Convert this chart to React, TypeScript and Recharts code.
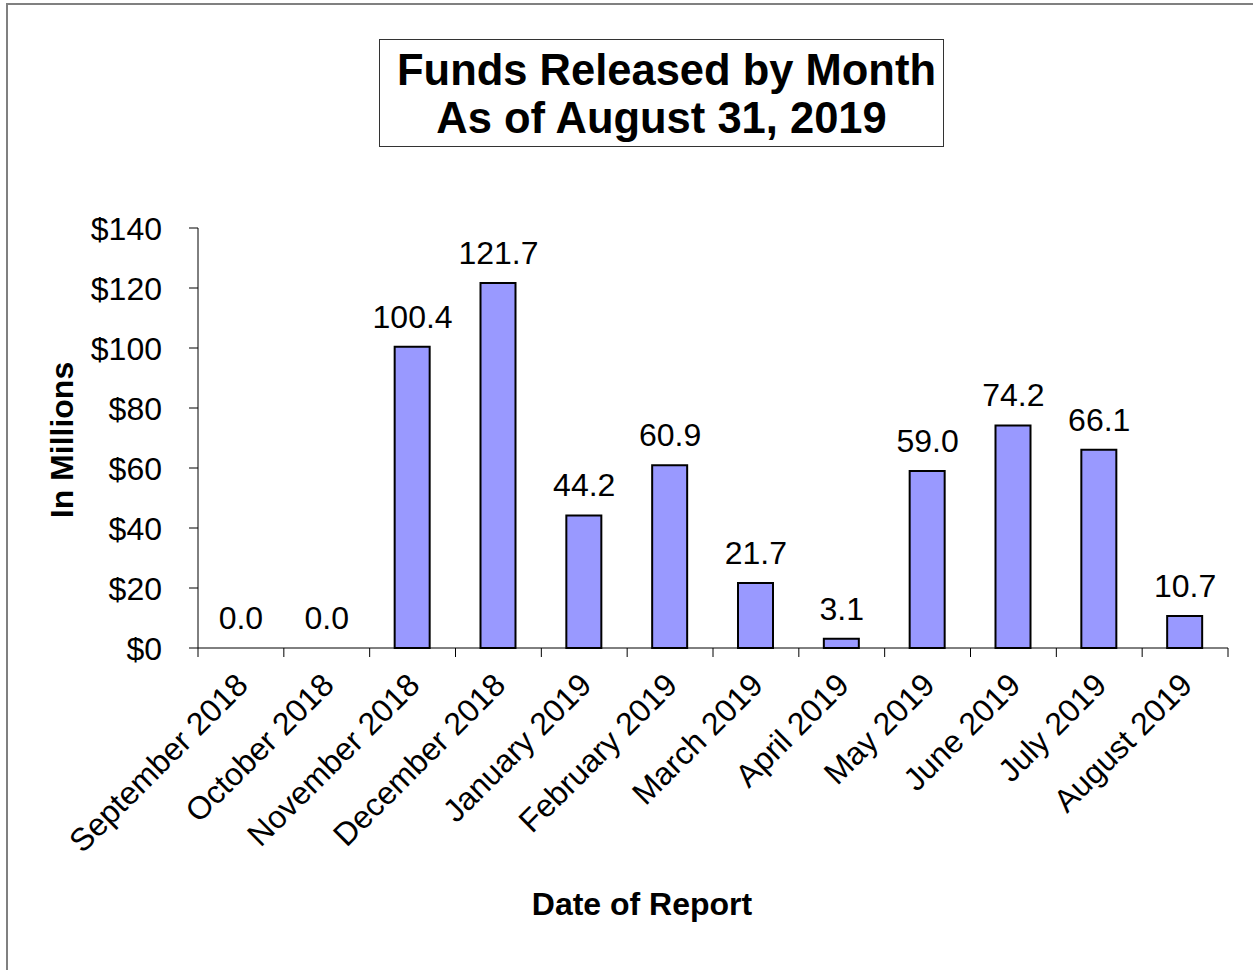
import React from 'react';
import { ComposedChart, Bar, Line, XAxis, YAxis, LabelList, Label } from 'recharts';

const months = [
  'September 2018', 'October 2018', 'November 2018', 'December 2018',
  'January 2019', 'February 2019', 'March 2019', 'April 2019',
  'May 2019', 'June 2019', 'July 2019', 'August 2019',
];
const funds = [0.0, 0.0, 100.4, 121.7, 44.2, 60.9, 21.7, 3.1, 59.0, 74.2, 66.1, 10.7];
const yTicks = [0, 20, 40, 60, 80, 100, 120, 140];

const data = months.map((m, i) => ({ month: m, value: funds[i] }));

const FONT = 'Arial, "Liberation Sans", Helvetica, sans-serif';

const XTick = (props: any) => {
  const { x, y, payload, index, visibleTicksCount, width } = props;
  let half = payload && typeof payload.offset === 'number' && payload.offset > 0 ? payload.offset : 0;
  if (!half && width && visibleTicksCount) half = width / visibleTicksCount / 2;
  const ax = x + 9;
  const ay = y + 39;
  const isLast = index === visibleTicksCount - 1;
  return (
    <g>
      <line x1={x - half} x2={x - half} y1={y} y2={y + 9} stroke="#000" strokeWidth={1} />
      {isLast && <line x1={x + half} x2={x + half} y1={y} y2={y + 9} stroke="#000" strokeWidth={1} />}
      <text
        x={ax}
        y={ay}
        textAnchor="end"
        transform={`rotate(-45, ${ax}, ${ay})`}
        fontSize={32}
        fontFamily={FONT}
        fill="#000"
      >
        {payload.value}
      </text>
    </g>
  );
};

const YTick = (props: any) => {
  const { x, y, payload } = props;
  return (
    <text x={x} y={y} dy="0.36em" textAnchor="end" fontSize={32} fontFamily={FONT} fill="#000">
      {`$${payload.value}`}
    </text>
  );
};

export default function App() {
  return (
    <div
      style={{
        position: 'absolute',
        left: 0,
        top: 0,
        width: 1253,
        height: 970,
        overflow: 'hidden',
        background: '#fff',
      }}
    >
      <div
        style={{
          position: 'absolute',
          left: 6,
          top: 3,
          width: 1400,
          height: 1100,
          border: '2px solid #808080',
          boxSizing: 'border-box',
        }}
      />
      <div
        style={{
          position: 'absolute',
          left: 379,
          top: 39,
          width: 565,
          height: 108,
          border: '1px solid #333',
          boxSizing: 'border-box',
          fontFamily: FONT,
          fontWeight: 'bold',
          fontSize: 43.5,
          lineHeight: '48px',
          textAlign: 'center',
          paddingTop: 6,
          color: '#000',
        }}
      >
        <div style={{ paddingLeft: 10, whiteSpace: 'nowrap' }}>Funds Released by Month</div>
        <div style={{ whiteSpace: 'nowrap' }}>As of August 31, 2019</div>
      </div>
      <div style={{ position: 'absolute', left: 0, top: 0 }}>
        <ComposedChart
          width={1253}
          height={970}
          data={data}
          margin={{ top: 228, right: 25, bottom: 0, left: 0 }}
        >
          <XAxis
            dataKey="month"
            height={322}
            interval={0}
            tickLine={false}
            tickSize={0}
            tickMargin={0}
            axisLine={{ stroke: '#000', strokeWidth: 1 }}
            tick={<XTick />}
          >
            <Label
              content={() => (
                <text x={642} y={915} textAnchor="middle" fontSize={32} fontWeight="bold" fontFamily={FONT} fill="#000">
                  Date of Report
                </text>
              )}
            />
          </XAxis>
          <YAxis
            width={198}
            domain={[0, 140]}
            ticks={yTicks}
            interval={0}
            tickSize={9}
            tickMargin={27}
            axisLine={{ stroke: '#000', strokeWidth: 1 }}
            tickLine={{ stroke: '#000', strokeWidth: 1 }}
            tick={<YTick />}
          >
            <Label
              content={() => (
                <text
                  x={73}
                  y={440}
                  textAnchor="middle"
                  transform="rotate(-90, 73, 440)"
                  fontSize={32}
                  fontWeight="bold"
                  fontFamily={FONT}
                  fill="#000"
                >
                  In Millions
                </text>
              )}
            />
          </YAxis>
          <Bar
            dataKey="value"
            fill="#9999FF"
            stroke="#000"
            strokeWidth={2}
            barSize={35}
            isAnimationActive={false}
          />
          <Line
            dataKey="value"
            stroke="none"
            dot={false}
            activeDot={false}
            legendType="none"
            isAnimationActive={false}
          >
            <LabelList
              dataKey="value"
              position="top"
              offset={19}
              formatter={(v: any) => Number(v).toFixed(1)}
              fill="#000"
              fontSize={32}
              fontFamily={FONT}
            />
          </Line>
        </ComposedChart>
      </div>
    </div>
  );
}
